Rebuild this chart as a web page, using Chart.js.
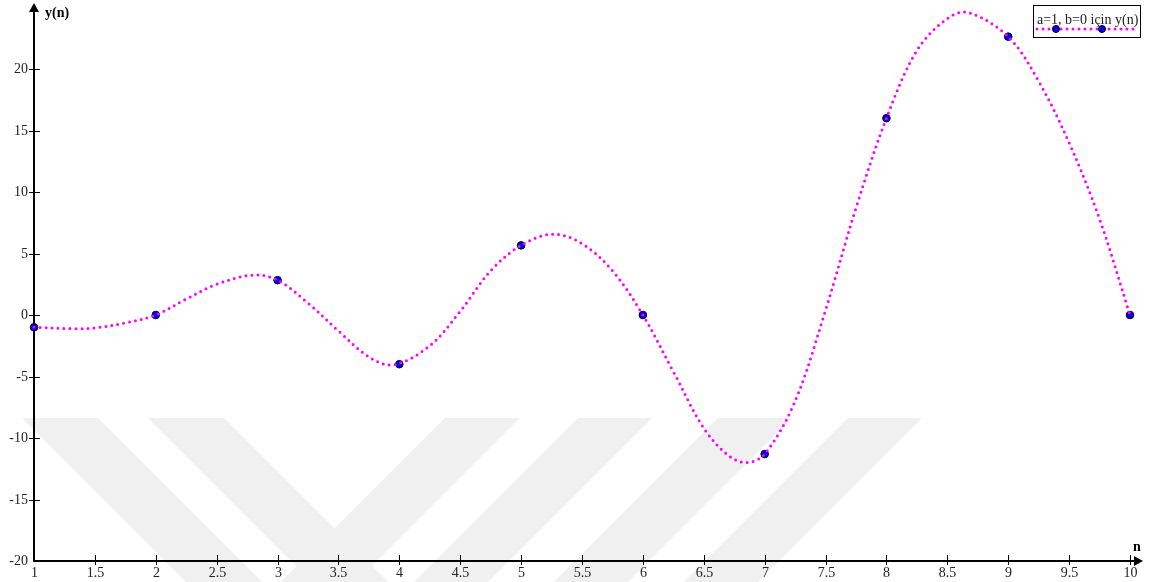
<!DOCTYPE html>
<html>
<head>
<meta charset="utf-8">
<script src="https://cdn.jsdelivr.net/npm/chart.js@4/dist/chart.umd.min.js"></script>
<style>
  body { margin: 0; background: #fff; }
  canvas { display: block; }
</style>
</head>
<body>
<canvas id="chart" width="1150" height="582"></canvas>
<script>
// curve
const nCurve = [1, 1.35, 1.5, 1.75, 2, 2.25, 2.5, 2.8, 3, 3.25, 3.5, 3.75, 3.95, 4.25, 4.5, 4.75, 5, 5.26, 5.5, 5.75, 6, 6.25, 6.5, 6.7, 6.85, 7, 7.25, 7.5, 7.75, 8, 8.25, 8.5, 8.67, 9, 9.25, 9.5, 9.75, 10];
const yCurve = [-1, -1.11, -1.05, -0.65, 0, 1.3, 2.5, 3.25, 2.83, 0.97, -1.3, -3.4, -4.05, -2.5, 0.3, 3.6, 5.66, 6.57, 5.8, 3.6, 0, -4.6, -9.2, -11.4, -12, -11.31, -7.0, 0.4, 8.7, 16, 21.5, 24.1, 24.6, 22.63, 19.0, 14.0, 7.8, 0];

// sample points y(n)
const nPoints = [1, 2, 3, 4, 5, 6, 7, 8, 9, 10];
const yPoints = [-1, 0, 2.83, -4, 5.66, 0, -11.31, 16, 22.63, 0];

const xTickLabels = ["1", "1.5", "2", "2.5", "3", "3.5", "4", "4.5", "5", "5.5", "6", "6.5", "7", "7.5", "8", "8.5", "9", "9.5", "10"];
const yTickLabels = ["-20", "-15", "-10", "-5", "0", "5", "10", "15", "20"];

const legendText = "a=1, b=0 için y(n)";
const serif = "'Liberation Serif', 'DejaVu Serif', serif";

// light watermark bands behind the plot
const watermark = {
  id: "watermark",
  beforeDraw(chart) {
    const ctx = chart.ctx;
    const top = 418, bot = 582, h = bot - top;
    // [left, right] at the top edge, direction of slant
    const bands = [[22, 98, 1], [148, 224, 1], [445, 520, -1], [578, 652, -1], [718, 792, -1], [848, 922, -1]];
    ctx.save();
    ctx.fillStyle = "#f0f0f0";
    for (const [l, r, d] of bands) {
      ctx.beginPath();
      ctx.moveTo(l, top);
      ctx.lineTo(r, top);
      ctx.lineTo(r + d * h, bot);
      ctx.lineTo(l + d * h, bot);
      ctx.closePath();
      ctx.fill();
    }
    ctx.restore();
  },
};

// axes with arrows, crossing ticks, labels, and the legend box
const axes = {
  id: "axes",
  beforeDatasetsDraw(chart) {
    const ctx = chart.ctx;
    const xs = chart.scales.x, ys = chart.scales.y;
    const x0 = xs.getPixelForValue(1);
    const y0 = ys.getPixelForValue(-20);
    ctx.save();
    ctx.strokeStyle = "#000";
    ctx.fillStyle = "#000";
    ctx.lineWidth = 2;

    // y axis
    ctx.beginPath();
    ctx.moveTo(x0, y0 + 1);
    ctx.lineTo(x0, 10);
    ctx.stroke();
    ctx.beginPath();
    ctx.moveTo(x0, 3);
    ctx.lineTo(x0 - 5, 12);
    ctx.lineTo(x0 + 5, 12);
    ctx.closePath();
    ctx.fill();

    // x axis
    ctx.beginPath();
    ctx.moveTo(x0 - 1, y0);
    ctx.lineTo(1136, y0);
    ctx.stroke();
    ctx.beginPath();
    ctx.moveTo(1143, y0);
    ctx.lineTo(1134, y0 - 5);
    ctx.lineTo(1134, y0 + 5);
    ctx.closePath();
    ctx.fill();

    ctx.lineWidth = 1;
    ctx.font = "14px " + serif;
    ctx.fillStyle = "#222";

    // x ticks
    ctx.textAlign = "center";
    ctx.textBaseline = "top";
    for (const lab of xTickLabels) {
      const px = Math.round(xs.getPixelForValue(Number(lab))) + 0.5;
      if (Number(lab) !== 1) {
        ctx.beginPath();
        ctx.moveTo(px, y0 - 6);
        ctx.lineTo(px, y0 + 4);
        ctx.stroke();
      }
      ctx.fillText(lab, px, y0 + 5);
    }

    // y ticks
    ctx.textAlign = "right";
    ctx.textBaseline = "middle";
    for (const lab of yTickLabels) {
      const py = Math.round(ys.getPixelForValue(Number(lab))) + 0.5;
      if (Number(lab) !== -20) {
        ctx.beginPath();
        ctx.moveTo(x0 - 5, py);
        ctx.lineTo(x0 + 6, py);
        ctx.stroke();
      }
      ctx.fillText(lab, x0 - 6, py);
    }

    // axis titles
    ctx.fillStyle = "#000";
    ctx.font = "bold 14px " + serif;
    ctx.textAlign = "left";
    ctx.fillText("y(n)", x0 + 11, 13);
    ctx.textAlign = "center";
    ctx.fillText("n", 1137, 547);

    // legend
    ctx.fillStyle = "#fff";
    ctx.fillRect(1033.5, 5.5, 107, 32);
    ctx.strokeStyle = "#000";
    ctx.strokeRect(1033.5, 5.5, 107, 32);
    ctx.fillStyle = "#222";
    ctx.font = "14px " + serif;
    ctx.textAlign = "left";
    ctx.textBaseline = "alphabetic";
    ctx.fillText(legendText, 1037, 24);
    ctx.strokeStyle = "#ff00ff";
    ctx.lineWidth = 3;
    ctx.lineCap = "round";
    ctx.setLineDash([0, 6]);
    ctx.beginPath();
    ctx.moveTo(1037, 29);
    ctx.lineTo(1137, 29);
    ctx.stroke();
    ctx.setLineDash([]);
    ctx.lineWidth = 1;
    ctx.strokeStyle = "#000";
    ctx.fillStyle = "#0000ee";
    for (const cx of [1056, 1102]) {
      ctx.beginPath();
      ctx.arc(cx, 29, 3.5, 0, Math.PI * 2);
      ctx.fill();
      ctx.stroke();
    }
    ctx.restore();
  },
};

const config = {
  type: "scatter",
  data: {
    datasets: [
      {
        label: legendText,
        data: nCurve.map((x, i) => ({ x, y: yCurve[i] })),
        showLine: true,
        borderColor: "#ff00ff",
        borderWidth: 3,
        borderDash: [0, 6],
        borderCapStyle: "round",
        tension: 0.35,
        pointRadius: 0,
        fill: false,
        clip: false,
      },
      {
        label: "points",
        data: nPoints.map((x, i) => ({ x, y: yPoints[i] })),
        showLine: false,
        pointRadius: 3.8,
        backgroundColor: "#0000ee",
        borderColor: "#000",
        borderWidth: 1,
        clip: false,
      },
    ],
  },
  options: {
    responsive: false,
    animation: false,
    layout: {
      padding: { left: 34, right: 20, top: 7.5, bottom: 21 },
    },
    plugins: {
      legend: { display: false },
      tooltip: { enabled: false },
    },
    scales: {
      x: { type: "linear", min: 1, max: 10, display: false },
      y: { type: "linear", min: -20, max: 25, display: false },
    },
  },
  plugins: [watermark, axes],
};

new Chart(document.getElementById("chart"), config);
</script>
</body>
</html>
